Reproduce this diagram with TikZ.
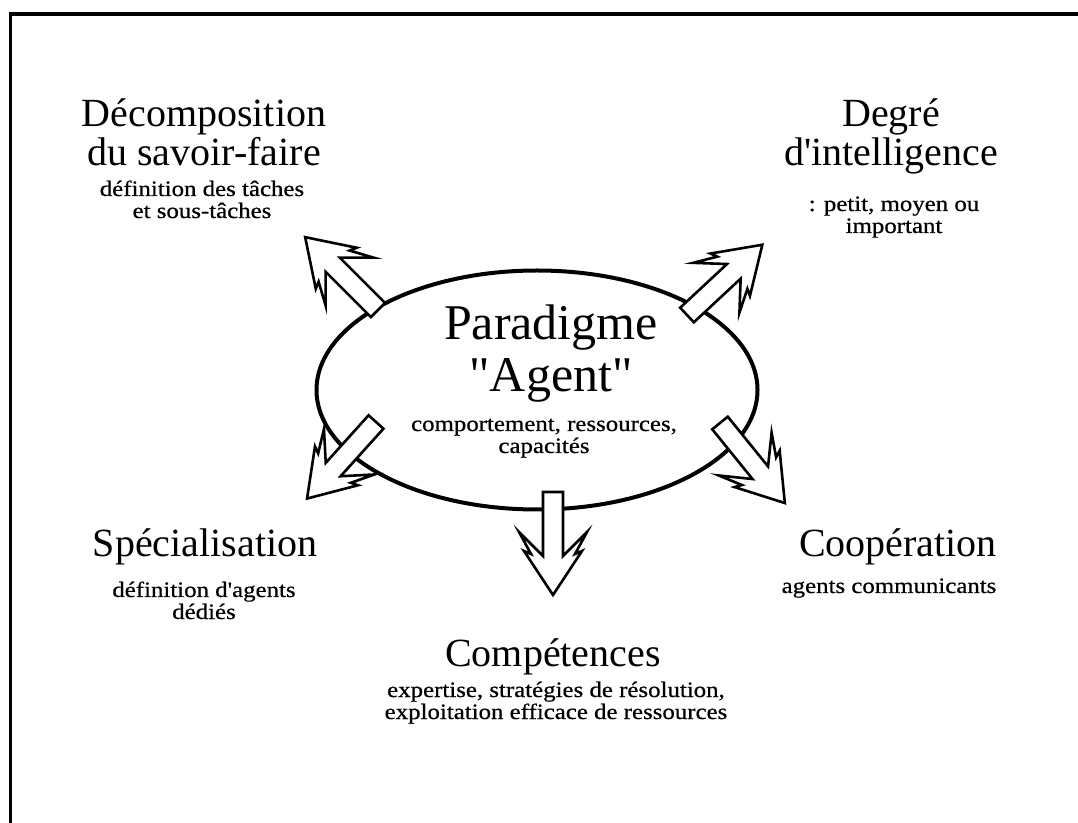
\documentclass[tikz,border=0pt]{standalone}
\usepackage{fontspec}
\newfontfamily\headfont{Liberation Serif}
\newfontfamily\subfont[FakeStretch=1.13,FakeBold=0.6]{Liberation Serif}
\usepackage{tikz}
\usetikzlibrary{shapes.geometric}
\tikzstyle{headtext} = [align=center, inner sep=0pt, anchor=base, font=\headfont\fontsize{40}{39}\selectfont]
\tikzstyle{subtext} = [align=center, inner sep=0pt, anchor=base, font=\subfont\fontsize{22}{22}\selectfont]
\tikzstyle{hollow} = [fill=white, draw=black, line width=2.6pt, line join=miter]
\tikzset{bigarrow/.pic={
  \draw[hollow] (0,-10) -- (64,-10) -- (40,-34) -- (62,-22) -- (59,-29) -- (103,0)
    -- (59,29) -- (62,22) -- (40,34) -- (64,10) -- (0,10) -- cycle;
}}

\begin{document}
\begin{tikzpicture}[x=1pt, y=1pt]
\useasboundingbox (0,0) rectangle (1078,822);
% frame
\draw[line width=3.5pt] (10.5,-10) |- (1090,808);

% central ellipse
\node (agent) [draw, ellipse, line width=4pt, minimum width=441pt, minimum height=239pt, inner sep=0pt] at (537,432) {};

% arrows
\pic[rotate=135] at (378,512) {bigarrow};
\pic[rotate=43] at (687,507) {bigarrow};
\pic[rotate=228] at (376,400) {bigarrow};
\pic[rotate=-51] at (720,399) {bigarrow};
\pic[rotate=-90] at (553,330) {bigarrow};

% texts (base = last line)
\node (paradigm) [headtext, font=\headfont\fontsize{50}{52}\selectfont] at (551,430) {Paradigme\\"Agent"};
\node (paradigmsub) [subtext] at (544,369) {comportement, ressources,\\capacités};

\node (decomp) [headtext] at (204,656) {Décomposition\\du savoir-faire};
\node (decompsub) [subtext] at (202,604) {définition des tâches\\et sous-tâches};

\node (degre) [headtext] at (891,656) {Degré\\d'intelligence};
\node (degresub) [subtext] at (894,589) {: petit, moyen ou\\important};

\node (special) [headtext] at (205,265) {Spécialisation};
\node (specialsub) [subtext] at (204,203) {définition d'agents\\dédiés};

\node (coop) [headtext] at (898,265) {Coopération};
\node (coopsub) [subtext] at (889,229) {agents communicants};

\node (compet) [headtext] at (553,156) {Compétences};
\node (competsub) [subtext] at (556,103) {expertise, stratégies de résolution,\\exploitation efficace de ressources};
\end{tikzpicture}
\end{document}
